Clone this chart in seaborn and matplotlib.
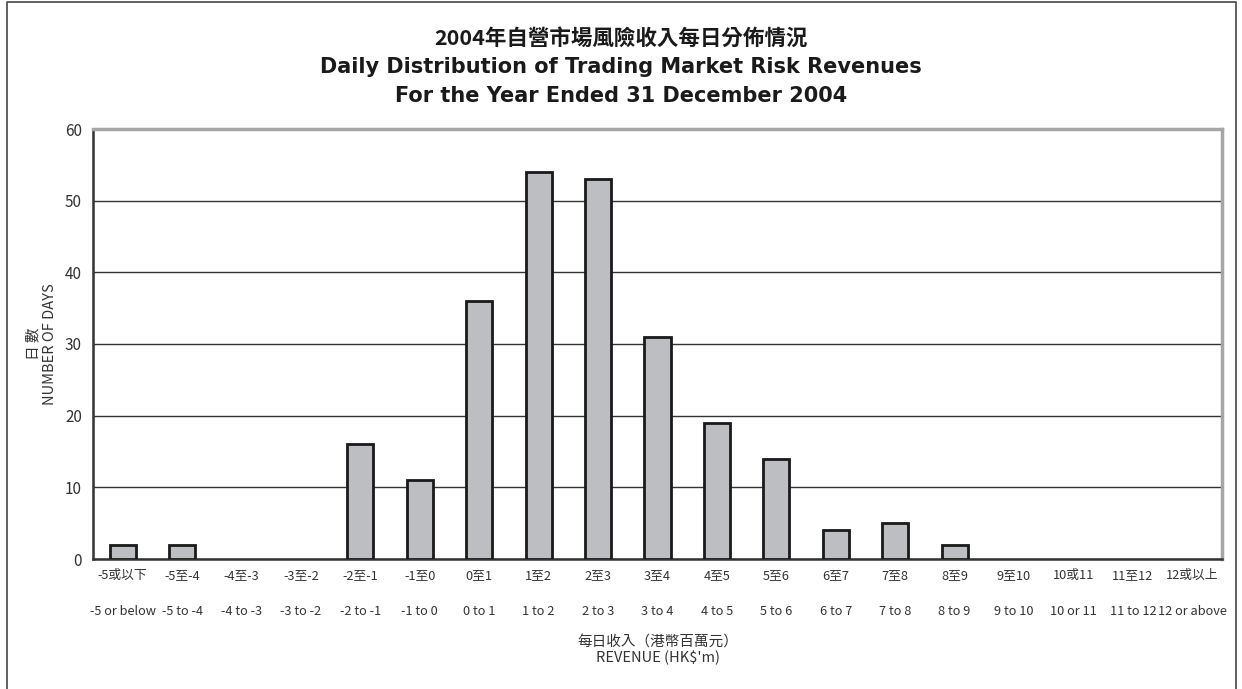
import numpy as np
import pandas as pd
import matplotlib
matplotlib.use("Agg")
import matplotlib.pyplot as plt
from matplotlib.lines import Line2D
import seaborn as sns

labels_zh = ["-5或以下", "-5至-4", "-4至-3", "-3至-2", "-2至-1", "-1至0", "0至1", "1至2",
             "2至3", "3至4", "4至5", "5至6", "6至7", "7至8", "8至9", "9至10", "10或11",
             "11至12", "12或以上"]
labels_en = ["-5 or below", "-5 to -4", "-4 to -3", "-3 to -2", "-2 to -1", "-1 to 0",
             "0 to 1", "1 to 2", "2 to 3", "3 to 4", "4 to 5", "5 to 6", "6 to 7",
             "7 to 8", "8 to 9", "9 to 10", "10 or 11", "11 to 12", "12 or above"]
days = [2, 2, 0, 0, 16, 11, 36, 54, 53, 31, 19, 14, 4, 5, 2, 0, 0, 0, 0]

df = pd.DataFrame({"bin": labels_en, "days": days})

sns.set_style("white")
plt.rcParams["font.family"] = ["Noto Sans CJK TC", "DejaVu Sans"]

fig = plt.figure(figsize=(12.42, 6.89), dpi=100)
ax = fig.add_axes([93 / 1242, 1 - 559 / 689, (1222 - 93) / 1242, (559 - 129) / 689])

sns.barplot(data=df, x="bin", y="days", color="#bdbec2", width=0.44,
            edgecolor="#1a1a1a", linewidth=2.0, saturation=1, ax=ax, zorder=3)
# empty bins draw nothing
for p in ax.patches:
    if p.get_height() == 0:
        p.set_linewidth(0)

ax.set_xlim(-0.5, len(days) - 0.5)
ax.set_ylim(0, 60)
ax.set_yticks(range(0, 61, 10))
ax.yaxis.grid(True, color="#333333", linewidth=1.0, zorder=0)
ax.xaxis.grid(False)

ax.set_xticks(np.arange(len(days)))
ax.set_xticklabels([f"{z}\n\n{e}" for z, e in zip(labels_zh, labels_en)],
                   fontsize=9.2, color="#333333", linespacing=1.5)
ax.set_xticks(np.arange(len(days) + 1) - 0.5, minor=True)
ax.tick_params(axis="x", which="major", length=0, pad=7)
ax.tick_params(axis="x", which="minor", direction="in", length=5, width=1, color="#333333")
ax.tick_params(axis="y", which="major", length=0, labelsize=11, colors="#333333", pad=8)

for s in ["left", "bottom"]:
    ax.spines[s].set_color("#333333")
    ax.spines[s].set_linewidth(1.8)
for s in ["top", "right"]:
    ax.spines[s].set_color("#a6a6a6")
    ax.spines[s].set_linewidth(2.5)

ax.set_xlabel("每日收入（港幣百萬元）\nREVENUE (HK$'m)", fontsize=10.5, color="#333333",
              labelpad=12, linespacing=1.2)
ax.set_ylabel("日 數\nNUMBER OF DAYS", fontsize=10.5, color="#333333", labelpad=6,
              linespacing=1.15)

title_kw = dict(ha="center", va="center", fontweight="bold", color="#1a1a1a")
fig.text(0.5, 1 - 38 / 689, "2004年自營市場風險收入每日分佈情況", fontsize=15.5, **title_kw)
fig.text(0.5, 1 - 67 / 689, "Daily Distribution of Trading Market Risk Revenues",
         fontsize=15, family=["DejaVu Sans"], **title_kw)
fig.text(0.5, 1 - 96 / 689, "For the Year Ended 31 December 2004",
         fontsize=15, family=["DejaVu Sans"], **title_kw)

# outer frame (left, top, right)
fig.add_artist(Line2D([7 / 1242, 7 / 1242, 1236 / 1242, 1236 / 1242],
                      [0, 1 - 2 / 689, 1 - 2 / 689, 0],
                      transform=fig.transFigure, color="#555555", linewidth=1.3))

fig.savefig("out.png", dpi=100)
